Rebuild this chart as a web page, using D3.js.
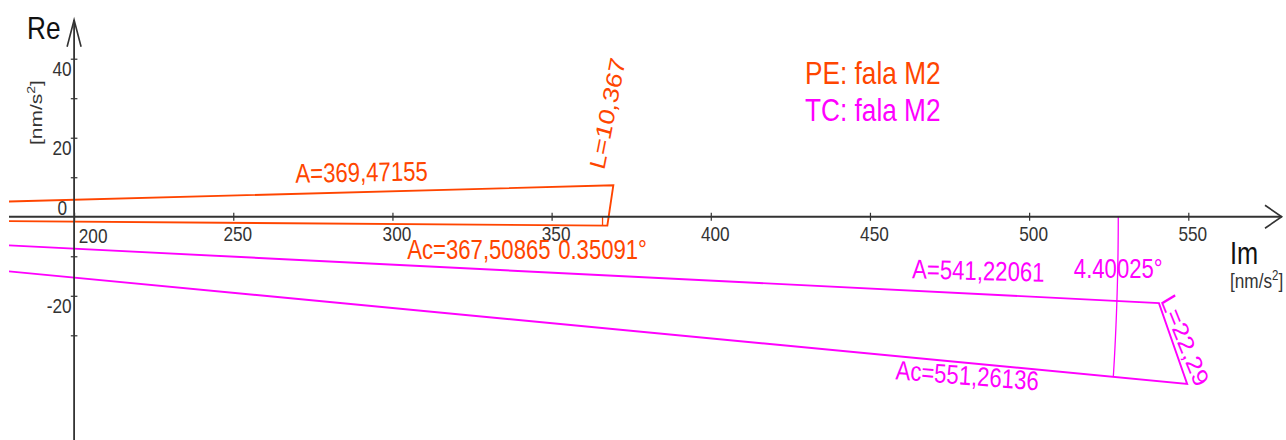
<!DOCTYPE html>
<html>
<head>
<meta charset="utf-8">
<script src="https://cdn.jsdelivr.net/npm/d3@7"></script>
<style>
  body { margin: 0; background: #fff; }
  svg { display: block; }
  text { font-family: "Liberation Sans", Arial, sans-serif; }
</style>
</head>
<body>
<svg id="chart" width="1286" height="440"></svg>
<script>
// Tidal phasors of the M2 wave (magnitudes in nm/s², phases in degrees)
const seriesNames = ["PE", "TC"];
const legendLabels = ["PE: fala M2", "TC: fala M2"];
const seriesColors = ["#ff4500", "#ff00ff"];
const ampA = [369.47155, 541.22061];
const phaseA = [1.233, -2.313];
const ampAc = [367.50865, 551.26136];
const phaseAc = [-0.35091, -4.40025];
const lengthL = [10.367, 22.29];
const arcRadius = [366, 528];
const xTickValues = [200, 250, 300, 350, 400, 450, 500, 550];
const yTickValues = [-30, -20, -10, 10, 20, 30, 40];
const yLabelValues = [-20, 20, 40];

// Label placement (pixel offsets / angles in screen space)
const labelStyle = {
  aFrac: [0.786, 0.895], aOff: [-10.5, -14], aRot: [-1, 1.5],
  acFrac: [null, 0.874], acOff: [null, 22], acRot: [0, 4.5],
  angleDy: [42, 61],
  lOff: [[-3, -92], [12, -3]], lRot: [-79, 68]
};

const W = 1286, H = 440;
const SQ = 0.82;               // horizontal compression of lettering
const axisColor = "#333";

const svg = d3.select("#chart");
const x = d3.scaleLinear().domain([200, 550]).range([74.1, 1188.3]);
const y = d3.scaleLinear().domain([-30, 40]).range([335.3, 58.7]);
const X0 = x(200), Y0 = y(0);

const rad = d => d * Math.PI / 180;
const tip = (amp, deg) => [amp * Math.cos(rad(deg)), amp * Math.sin(rad(deg))];
const fmt = v => String(v).replace(".", ",");

// text with compressed lettering; rot is the on-screen angle
function label(g, str, px, py, opt) {
  const rot = opt.rot || 0;
  const pre = Math.atan2(Math.sin(rad(rot)), Math.cos(rad(rot)) / SQ) * 180 / Math.PI;
  return g.append("text")
    .attr("transform", `translate(${px},${py}) scale(${SQ},1) rotate(${pre})`)
    .attr("text-anchor", opt.anchor || "start")
    .attr("dy", opt.dy || null)
    .attr("font-size", opt.size)
    .attr("fill", opt.color || axisColor)
    .text(str);
}

svg.append("rect").attr("width", W).attr("height", H).attr("fill", "#fff");
svg.append("defs").append("clipPath").attr("id", "plot")
  .append("rect").attr("x", 9).attr("y", 0).attr("width", W - 9).attr("height", H);

// ---- vectors ----
const vec = svg.append("g").attr("clip-path", "url(#plot)")
  .attr("fill", "none").attr("stroke-width", 1.9).attr("stroke-linejoin", "miter");
const line = d3.line().x(d => x(d[0])).y(d => y(d[1]));

seriesNames.forEach((name, i) => {
  const a = tip(ampA[i], phaseA[i]);
  const ac = tip(ampAc[i], phaseAc[i]);
  const c = seriesColors[i];
  vec.append("path").attr("d", line([[0, 0], a, ac, [0, 0]])).attr("stroke", c);
  // angle arc from the Im axis to Ac
  const angs = d3.range(0, 41).map(k => phaseAc[i] * k / 40);
  vec.append("path").attr("d", line(angs.map(t => tip(arcRadius[i], t))))
    .attr("stroke", c).attr("stroke-width", 1.3);
});

// ---- axes ----
const ax = svg.append("g");
const xAxis = ax.append("g").attr("transform", `translate(0,${Y0})`)
  .call(d3.axisBottom(x).tickValues(xTickValues).tickSizeInner(4).tickSizeOuter(0).tickFormat(d => d));
xAxis.select(".domain").remove();
xAxis.selectAll(".tick line").attr("y1", -4).attr("y2", 4).attr("stroke", axisColor).attr("stroke-width", 1.2);
xAxis.selectAll(".tick text")
  .attr("y", null).attr("dy", null).attr("fill", axisColor).attr("font-size", 21)
  .attr("text-anchor", d => d === 200 ? "start" : "middle")
  .attr("transform", d => d === 200 ? `translate(4.2,26.5) scale(${SQ},1)` : `translate(4,24.5) scale(${SQ},1)`);

const yAxis = ax.append("g").attr("transform", `translate(${X0},0)`)
  .call(d3.axisLeft(y).tickValues(yTickValues).tickSizeInner(3.3).tickSizeOuter(0)
    .tickFormat(d => yLabelValues.includes(d) ? String(d) : ""));
yAxis.select(".domain").remove();
yAxis.selectAll(".tick line").attr("x1", 3.3).attr("x2", -3.3).attr("stroke", axisColor).attr("stroke-width", 1.2);
yAxis.selectAll(".tick text")
  .attr("x", null).attr("dy", null).attr("fill", axisColor).attr("font-size", 21)
  .attr("text-anchor", "end")
  .attr("transform", `translate(-2.5,16.5) scale(${SQ},1)`);
label(ax, "0", X0 - 7, Y0 - 1.5, { size: 21, anchor: "end" });

// axis lines with open arrowheads
ax.append("path").attr("d", `M9,${Y0}H${W - 4.3}`).attr("stroke", axisColor).attr("stroke-width", 1.8);
ax.append("path").attr("d", `M${W - 21},${Y0 - 11.5}L${W - 4.3},${Y0}L${W - 21},${Y0 + 11.5}`)
  .attr("fill", "none").attr("stroke", axisColor).attr("stroke-width", 1.6);
ax.append("path").attr("d", `M${X0},${H}V20`).attr("stroke", axisColor).attr("stroke-width", 1.8);
ax.append("path").attr("d", `M${X0 - 7},46.7L${X0},20L${X0 + 7},46.7`)
  .attr("fill", "none").attr("stroke", axisColor).attr("stroke-width", 1.6);

// axis titles and units
label(ax, "Re", 27, 38.5, { size: 32, color: "#111" });
label(ax, "Im", 1230, 263.5, { size: 31, color: "#111" });
const unitX = label(ax, "[nm/s", 1230, 287.5, { size: 21 });
unitX.append("tspan").attr("dy", -8).attr("font-size", 14).text("2");
unitX.append("tspan").attr("dy", 8).text("]");
const unitY = label(ax, "[nm/s", 41.5, 145, { size: 21, rot: -90 });
unitY.append("tspan").attr("dy", -8).attr("font-size", 14).text("2");
unitY.append("tspan").attr("dy", 8).text("]");

// ---- vector labels ----
const lab = svg.append("g");
seriesNames.forEach((name, i) => {
  const c = seriesColors[i];
  const a = tip(ampA[i], phaseA[i]);
  const ac = tip(ampAc[i], phaseAc[i]);
  // |A| label above its vector
  const fa = labelStyle.aFrac[i];
  label(lab, "A=" + fmt(ampA[i]), x(a[0] * fa), y(a[1] * fa) + labelStyle.aOff[i],
    { size: 27, anchor: "middle", color: c, rot: labelStyle.aRot[i] });
  // angle label under the arc
  const arcTop = x(arcRadius[i]);
  label(lab, Math.abs(phaseAc[i]) + "°", arcTop, Y0 + labelStyle.angleDy[i],
    { size: 27, anchor: "middle", color: c });
  // |Ac| label
  if (labelStyle.acFrac[i] === null) {
    label(lab, "Ac=" + fmt(ampAc[i]), arcTop - 52, Y0 + labelStyle.angleDy[i],
      { size: 27, anchor: "end", color: c });
  } else {
    const f = labelStyle.acFrac[i];
    label(lab, "Ac=" + fmt(ampAc[i]), x(ac[0] * f), y(ac[1] * f) + labelStyle.acOff[i],
      { size: 27, anchor: "middle", color: c, rot: labelStyle.acRot[i] });
  }
  // L label along the difference segment
  const mx = (x(a[0]) + x(ac[0])) / 2, my = (y(a[1]) + y(ac[1])) / 2;
  label(lab, "L=" + fmt(lengthL[i]), mx + labelStyle.lOff[i][0], my + labelStyle.lOff[i][1],
    { size: 27, anchor: "middle", dy: "0.35em", color: c, rot: labelStyle.lRot[i] });
});

// ---- legend ----
legendLabels.forEach((t, i) => {
  label(svg, t, 805, 84 + i * 37, { size: 32, color: seriesColors[i] });
});
</script>
</body>
</html>
